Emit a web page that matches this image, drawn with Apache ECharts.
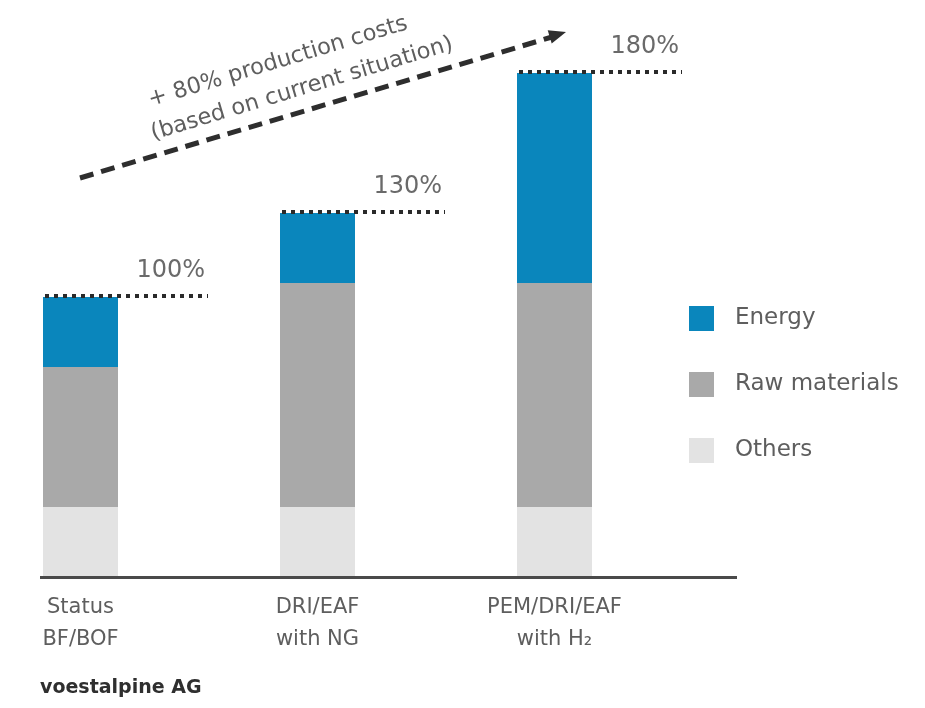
<!DOCTYPE html>
<html>
<head>
<meta charset="utf-8">
<script src="https://cdn.jsdelivr.net/npm/echarts@6/dist/echarts.min.js"></script>
<style>
  html, body { margin: 0; padding: 0; background: #ffffff; }
  #chart { width: 925px; height: 708px; }
</style>
</head>
<body>
<div id="chart"></div>
<script>
// Production cost build-up per steelmaking route (index, BF/BOF = 100%)
const categories = ['Status\nBF/BOF', 'DRI/EAF\nwith NG', 'PEM/DRI/EAF\nwith H₂'];
const others = [25, 25, 25];
const rawMaterials = [50, 80, 80];
const energy = [25, 25, 75];
const seriesNames = ['Energy', 'Raw materials', 'Others'];
const arrowLines = ['+ 80% production costs', '(based on current situation)'];
const sourceNote = 'voestalpine AG';

const totals = categories.map((_, i) => others[i] + rawMaterials[i] + energy[i]);

const FONT = '"DejaVu Sans", Verdana, sans-serif';
const TEXT = '#5e5e5e';
const BAR_W = 75;
const TILT = Math.atan2(146, 486);

const chart = echarts.init(document.getElementById('chart'), null, { renderer: 'canvas' });

const option = {
  animation: false,
  backgroundColor: '#ffffff',
  textStyle: { fontFamily: FONT },
  grid: { left: 80.5, right: 370.5, top: 17, bottom: 131, containLabel: false },
  legend: {
    data: seriesNames,
    orient: 'vertical',
    left: 684,
    top: 301,
    icon: 'rect',
    itemWidth: 25,
    itemHeight: 25,
    itemGap: 41,
    selectedMode: false,
    textStyle: { fontSize: 23, color: TEXT, fontFamily: FONT, padding: [0, 0, 0, 16] }
  },
  xAxis: {
    type: 'category',
    data: categories,
    boundaryGap: false,
    axisLine: { show: false },
    axisTick: { show: false },
    splitLine: { show: false },
    axisLabel: {
      interval: 0,
      margin: 15,
      fontSize: 21,
      lineHeight: 32,
      color: TEXT,
      fontFamily: FONT,
      align: 'center'
    }
  },
  yAxis: {
    type: 'value',
    min: 0,
    max: 200,
    show: false,
    splitLine: { show: false }
  },
  series: [
    {
      name: 'Others', type: 'bar', stack: 'cost', barWidth: BAR_W,
      itemStyle: { color: '#e3e3e3' }, data: others
    },
    {
      name: 'Raw materials', type: 'bar', stack: 'cost', barWidth: BAR_W,
      itemStyle: { color: '#a9a9a9' }, data: rawMaterials
    },
    {
      name: 'Energy', type: 'bar', stack: 'cost', barWidth: BAR_W,
      itemStyle: { color: '#0a86bc' }, data: energy
    },
    {
      // dotted total marker with its percentage label
      name: 'Total', type: 'custom', z: 10,
      data: totals.map((t, i) => [i, t]),
      encode: { x: 0, y: 1 },
      renderItem: function (params, api) {
        const p = api.coord([api.value(0), api.value(1)]);
        const x0 = p[0] - BAR_W / 2;
        const x1 = x0 + 165;
        return {
          type: 'group',
          children: [
            {
              type: 'line',
              shape: { x1: x0 + 2, y1: p[1] - 1, x2: x1, y2: p[1] - 1 },
              style: { stroke: '#2a2a2a', lineWidth: 4, lineDash: [4, 5] }
            },
            {
              type: 'text',
              style: {
                text: api.value(1) + '%',
                x: x1 - 3, y: p[1] - 14,
                align: 'right', verticalAlign: 'bottom',
                fill: '#6a6a6a', fontSize: 24, fontFamily: FONT
              }
            }
          ]
        };
      }
    }
  ],
  graphic: [
    // baseline
    {
      type: 'line', z: 20,
      shape: { x1: 40, y1: 577.5, x2: 737, y2: 577.5 },
      style: { stroke: '#4a4a4a', lineWidth: 3 }
    },
    // rising dashed arrow
    {
      type: 'line', z: 20,
      shape: { x1: 80, y1: 178, x2: 552, y2: 37 },
      style: { stroke: '#2e2e2e', lineWidth: 5, lineDash: [14, 8] }
    },
    {
      type: 'polygon', z: 20,
      x: 566, y: 32, rotation: TILT,
      shape: { points: [[0, 0], [-17, -7], [-17, 7]] },
      style: { fill: '#2e2e2e' }
    },
    {
      type: 'text', z: 20,
      x: 278, y: 62, rotation: TILT,
      style: {
        text: arrowLines[0], align: 'center', verticalAlign: 'middle',
        fill: TEXT, fontSize: 22.5, fontFamily: FONT
      }
    },
    {
      type: 'text', z: 20,
      x: 302, y: 89, rotation: TILT,
      style: {
        text: arrowLines[1], align: 'center', verticalAlign: 'middle',
        fill: TEXT, fontSize: 22.5, fontFamily: FONT
      }
    },
    {
      type: 'text', z: 20,
      left: 40, top: 679,
      style: {
        text: sourceNote, fill: '#2f2f2f', fontSize: 19, fontWeight: 'bold', fontFamily: FONT
      }
    }
  ]
};

chart.setOption(option);
</script>
</body>
</html>
